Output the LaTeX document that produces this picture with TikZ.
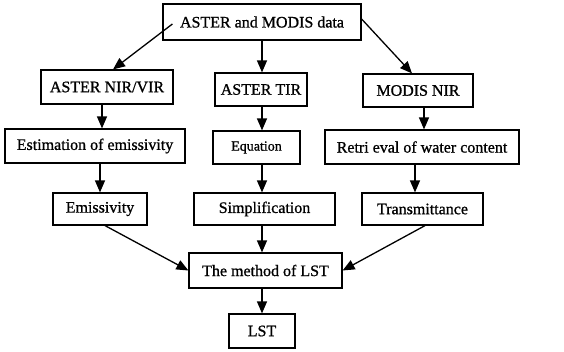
\documentclass[tikz,border=0pt]{standalone}
\usepackage{fontspec}
\setmainfont{Liberation Serif}[FakeBold=0.9,AutoFakeBold=0.9]
\usetikzlibrary{arrows.meta,calc}
\begin{document}
\begin{tikzpicture}[x=1pt,y=-1pt,
  box/.style={draw,line width=1.2pt,inner sep=0pt,font=\fontsize{16}{18}\selectfont},
  arr/.style={line width=1.3pt,-{Triangle[length=12pt,width=10pt]}}]
\useasboundingbox (0,0) rectangle (564,351);
\node[box,minimum width=198pt,minimum height=36pt] (top) at (262,22) {ASTER and MODIS data};
\node[box,minimum width=132pt,minimum height=34pt] (nir) at (107,87) {ASTER NIR/VIR};
\node[box,minimum width=92pt,minimum height=33pt] (tir) at (261,89.5) {ASTER TIR};
\node[box,minimum width=110pt,minimum height=33pt] (modis) at (418,90.5) {MODIS NIR};
\node[box,minimum width=180pt,minimum height=34pt] (est) at (95,146) {Estimation of emissivity};
\node[box,minimum width=87pt,minimum height=33pt,font=\fontsize{14}{14}\selectfont] (eq) at (256.5,147.5) {Equation};
\node[box,minimum width=194pt,minimum height=34pt] (ret) at (422,147) {Retri eval of water content};
\node[box,minimum width=94pt,minimum height=32pt] (emis) at (100,209) {Emissivity};
\node[box,minimum width=141pt,minimum height=32pt] (simp) at (264.5,209) {Simplification};
\node[box,minimum width=121pt,minimum height=32pt] (trans) at (422.5,209) {Transmittance};
\node[box,minimum width=153pt,minimum height=35pt] (method) at (265.5,270.5) {The method of LST};
\node[box,minimum width=66pt,minimum height=34pt] (lst) at (262,331) {LST};
% connectors
\coordinate (ts) at ([xshift=10pt,yshift=-2pt]top.west);
\draw[arr] (ts) -- ([xshift=6pt]nir.north);
\draw[arr] ([yshift=3pt]top.east) -- ([xshift=-6pt]modis.north);
\draw[arr] (top.south) -- (top.south |- tir.north);
\draw[arr] ([xshift=-5pt]nir.south) -- ([xshift=-5pt]nir.south |- est.north);
\draw[arr] ([xshift=1pt]tir.south) -- ([xshift=1pt]tir.south |- eq.north);
\draw[arr] ([xshift=6pt]modis.south) -- ([xshift=6pt]modis.south |- ret.north);
\draw[arr] (emis.north |- est.south) -- (emis.north);
\draw[arr] ([xshift=5.5pt]eq.south) -- ([xshift=5.5pt]eq.south |- simp.north);
\draw[arr] ([xshift=-7pt]ret.south) -- ([xshift=-7pt]ret.south |- trans.north);
\draw[arr] ([xshift=5pt]emis.south) -- (method.west);
\draw[arr] ([xshift=-2.5pt]simp.south) -- ([xshift=-2.5pt]simp.south |- method.north);
\draw[arr] ([xshift=2.5pt]trans.south) -- (method.east);
\draw[arr] (lst.north |- method.south) -- (lst.north);
\end{tikzpicture}
\end{document}
